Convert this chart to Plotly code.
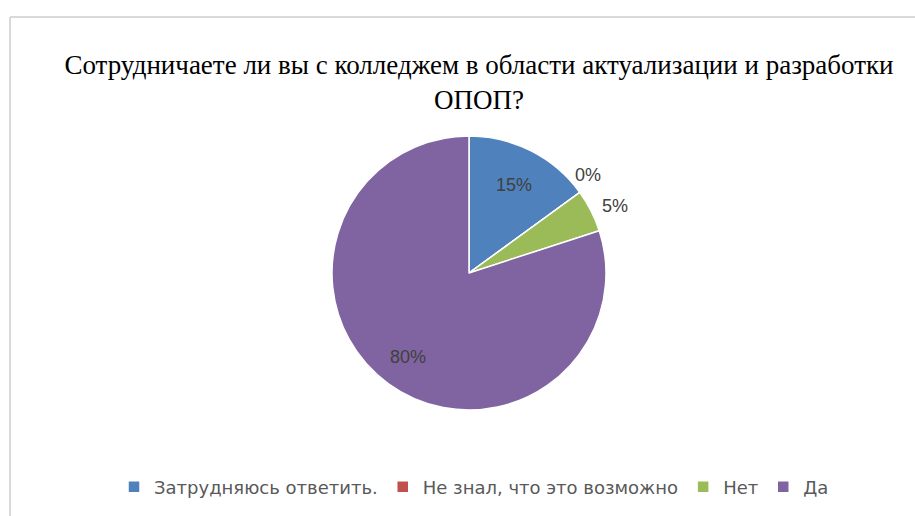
import math
import plotly.graph_objects as go

categories = ["Затрудняюсь ответить.", "Не знал, что это возможно", "Нет", "Да"]
values = [15, 0, 5, 80]
colors = ["#4F81BD", "#C0504D", "#9BBB59", "#8064A2"]
label_inside = [True, False, False, True]
title_text = "Сотрудничаете ли вы с колледжем в области актуализации и разработки<br>ОПОП?"

W, H = 915, 516
cx, cy, r = 469, 273, 137

fig = go.Figure(go.Pie(
    labels=categories,
    values=values,
    sort=False,
    direction="clockwise",
    rotation=0,
    marker=dict(colors=colors, line=dict(color="white", width=1.5)),
    textinfo="none",
    domain=dict(x=[(cx - r) / W, (cx + r) / W], y=[1 - (cy + r) / H, 1 - (cy - r) / H]),
    hoverinfo="label+percent",
    showlegend=True,
))

# data labels placed at each slice's mid-angle (computed from the values)
total = sum(values)
annotations = []
cum = 0
for v, inside in zip(values, label_inside):
    theta = math.radians(360 * (cum + v / 2) / total)
    cum += v
    if inside:
        k = 0.72 if v < 50 else 0.76
        xa, ya = "center", "middle"
    else:
        k = 1.07
        xa = "left" if v > 0 else "center"
        ya = "middle" if v > 0 else "bottom"
    px = cx + k * r * math.sin(theta)
    py = cy - k * r * math.cos(theta)
    annotations.append(dict(
        x=px / W, y=1 - py / H, xref="paper", yref="paper",
        text=f"{v}%", showarrow=False, xanchor=xa, yanchor=ya,
        font=dict(family="Liberation Sans, Arial", size=18, color="#404040"),
    ))

fig.update_layout(
    width=W, height=H,
    margin=dict(l=0, r=0, t=0, b=0),
    paper_bgcolor="white",
    plot_bgcolor="white",
    title=dict(
        text=title_text,
        x=479 / W, xanchor="center",
        y=1 - 74 / H, yanchor="middle",
        font=dict(family="Liberation Serif, Times New Roman", size=27, color="#000000"),
    ),
    legend=dict(
        orientation="h",
        x=474 / W, xanchor="center",
        y=1 - 487 / H, yanchor="middle",
        font=dict(family="DejaVu Sans", size=18, color="#595959"),
        itemclick=False,
    ),
    annotations=annotations,
    shapes=[
        dict(type="line", xref="paper", yref="paper", x0=10 / W, x1=10 / W, y0=0, y1=1 - 17 / H,
             line=dict(color="#D9D9D9", width=2)),
        dict(type="line", xref="paper", yref="paper", x0=10 / W, x1=1, y0=1 - 17 / H, y1=1 - 17 / H,
             line=dict(color="#D9D9D9", width=2)),
    ],
)

fig.write_html("out.html", config={"displayModeBar": False},
               post_script="document.body.style.margin='0';")
